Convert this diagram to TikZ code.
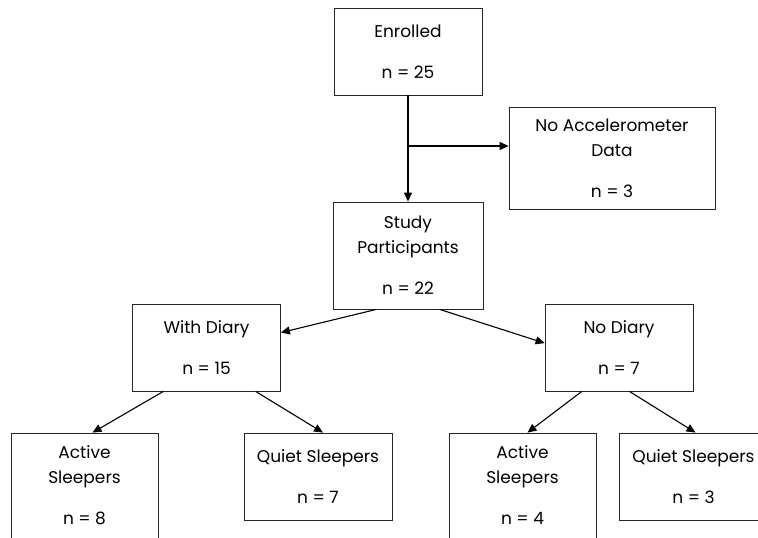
\documentclass[tikz,border=0pt]{standalone}
\usepackage{fontspec}
\setmainfont{Poppins}
\usetikzlibrary{arrows.meta,calc}

\tikzset{
	box/.style={draw=black!85, line width=0.8pt, align=center, inner sep=0pt,
		font=\fontsize{17}{25}\selectfont},
	smallbox/.style={box, minimum width=148, minimum height=87},
	flow/.style={-{Triangle[length=9pt,width=8pt]}, line width=1.1pt},
}

\begin{document}
\begin{tikzpicture}[x=1pt, y=-1pt]
	\useasboundingbox (0,0) rectangle (758,538);
	\clip (0,0) rectangle (758,538);
	
	% top part
	\node[smallbox] (enrolled) at (408,51.5) {Enrolled\\[16pt]n = 25};
	\node[box, minimum width=206, minimum height=102] (noacc) at (612,158) {No Accelerometer\\Data\\[16pt]n = 3};
	\node[box, minimum width=150, minimum height=107] (study) at (408,255.5) {Study\\Participants\\[16pt]n = 22};
	\coordinate (branch) at (408,146);
	
	% diary split
	\node[smallbox] (withdiary) at (206.5,347.5) {With Diary\\[16pt]n = 15};
	\node[smallbox] (nodiary) at (619,347.5) {No Diary\\[16pt]n = 7};
	
	% sleeper groups
	\node[box, minimum width=147, minimum height=120, text depth=16pt] (activeA) at (84.5,493) {Active\\Sleepers\\[16pt]n = 8};
	\node[smallbox] (quietA) at (318,476.5) {Quiet Sleepers\\[16pt]n = 7};
	\node[box, minimum width=147, minimum height=120, text depth=16pt] (activeB) at (522.5,493) {Active\\Sleepers\\[16pt]n = 4};
	\node[smallbox] (quietB) at (693.5,476.5) {Quiet Sleepers\\[16pt]n = 3};
	
	% connectors
	\draw[flow] (enrolled.south) -- (study.north);
	\draw[flow] (branch) -- (branch -| noacc.west);
	\draw[flow] ($(study.south west)!0.29!(study.south east)$) -- ($(withdiary.north east)!0.33!(withdiary.south east)$);
	\draw[flow] ($(study.south west)!0.71!(study.south east)$) -- ($(nodiary.north west)!0.45!(nodiary.south west)$);
	\draw[flow] ($(withdiary.south west)!0.21!(withdiary.south east)$) -- ([xshift=8pt]activeA.north);
	\draw[flow] ($(withdiary.south west)!0.83!(withdiary.south east)$) -- ([xshift=5pt]quietA.north);
	\draw[flow] ($(nodiary.south west)!0.25!(nodiary.south east)$) -- ([xshift=5pt]activeB.north);
	\draw[flow] ($(nodiary.south west)!0.57!(nodiary.south east)$) -- ([xshift=2pt]quietB.north);
\end{tikzpicture}
\end{document}
